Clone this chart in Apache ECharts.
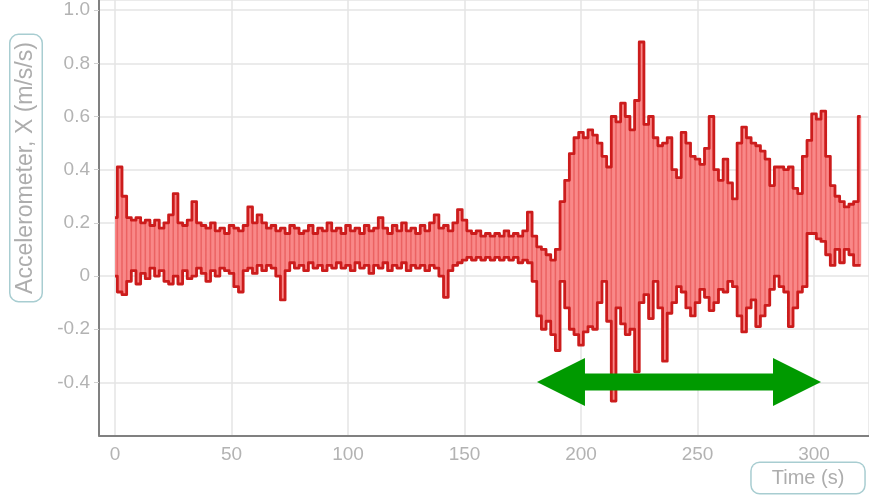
<!DOCTYPE html>
<html>
<head>
<meta charset="utf-8">
<script src="https://cdn.jsdelivr.net/npm/echarts@6/dist/echarts.min.js"></script>
<style>
  html, body { margin: 0; padding: 0; background: #fff; }
  #chart { width: 869px; height: 495px; }
</style>
</head>
<body>
<div id="chart"></div>
<script>
// Accelerometer X trace, summarised every 2 s as the upper and lower edge
// of the fast oscillation band.
const time = [
  0, 2, 4, 6, 8, 10, 12, 14, 16, 18, 20, 22, 24, 26, 28, 30, 32, 34, 36, 38,
  40, 42, 44, 46, 48, 50, 52, 54, 56, 58, 60, 62, 64, 66, 68, 70, 72, 74, 76, 78,
  80, 82, 84, 86, 88, 90, 92, 94, 96, 98, 100, 102, 104, 106, 108, 110, 112, 114, 116, 118,
  120, 122, 124, 126, 128, 130, 132, 134, 136, 138, 140, 142, 144, 146, 148, 150, 152, 154, 156, 158,
  160, 162, 164, 166, 168, 170, 172, 174, 176, 178, 180, 182, 184, 186, 188, 190, 192, 194, 196, 198,
  200, 202, 204, 206, 208, 210, 212, 214, 216, 218, 220, 222, 224, 226, 228, 230, 232, 234, 236, 238,
  240, 242, 244, 246, 248, 250, 252, 254, 256, 258, 260, 262, 264, 266, 268, 270, 272, 274, 276, 278,
  280, 282, 284, 286, 288, 290, 292, 294, 296, 298, 300, 302, 304, 306, 308, 310, 312, 314, 316, 318,
  320
];

const accelHigh = [
  0.22, 0.41, 0.30, 0.22, 0.21, 0.22, 0.20, 0.21, 0.19, 0.21, 0.18, 0.20, 0.23, 0.31, 0.20, 0.19, 0.21, 0.28, 0.20, 0.19,
  0.18, 0.20, 0.17, 0.18, 0.16, 0.19, 0.18, 0.17, 0.19, 0.26, 0.20, 0.23, 0.20, 0.18, 0.19, 0.17, 0.18, 0.16, 0.19, 0.18,
  0.16, 0.17, 0.19, 0.16, 0.18, 0.17, 0.20, 0.17, 0.18, 0.16, 0.19, 0.17, 0.18, 0.16, 0.19, 0.17, 0.18, 0.22, 0.18, 0.16,
  0.19, 0.17, 0.20, 0.17, 0.18, 0.16, 0.19, 0.17, 0.20, 0.23, 0.18, 0.19, 0.17, 0.20, 0.25, 0.21, 0.17, 0.16, 0.17, 0.15,
  0.16, 0.15, 0.16, 0.15, 0.17, 0.15, 0.16, 0.15, 0.17, 0.24, 0.15, 0.11, 0.10, 0.08, 0.06, 0.10, 0.28, 0.36, 0.46, 0.52,
  0.54, 0.52, 0.55, 0.53, 0.50, 0.45, 0.41, 0.60, 0.58, 0.65, 0.60, 0.55, 0.66, 0.88, 0.57, 0.60, 0.52, 0.49, 0.50, 0.52,
  0.40, 0.37, 0.54, 0.50, 0.45, 0.44, 0.42, 0.48, 0.60, 0.40, 0.36, 0.44, 0.35, 0.29, 0.50, 0.56, 0.52, 0.50, 0.49, 0.47,
  0.44, 0.34, 0.41, 0.41, 0.40, 0.41, 0.33, 0.31, 0.45, 0.51, 0.61, 0.59, 0.62, 0.45, 0.34, 0.30, 0.28, 0.26, 0.27, 0.28,
  0.60
];

const accelLow = [
  0.00, -0.06, -0.07, -0.02, 0.02, -0.03, 0.01, -0.01, 0.03, 0.00, 0.02, -0.02, -0.03, 0.00, -0.03, 0.02, -0.01, 0.00, 0.03, 0.01,
  -0.02, 0.02, 0.00, 0.03, 0.02, 0.01, -0.04, -0.06, 0.02, 0.03, 0.01, 0.04, 0.02, 0.04, 0.03, 0.00, -0.09, 0.02, 0.05, 0.03,
  0.04, 0.02, 0.05, 0.03, 0.04, 0.02, 0.04, 0.03, 0.05, 0.03, 0.04, 0.02, 0.05, 0.03, 0.04, 0.01, 0.04, 0.03, 0.05, 0.02,
  0.04, 0.03, 0.05, 0.02, 0.04, 0.03, 0.04, 0.02, 0.04, 0.03, 0.00, -0.08, 0.02, 0.04, 0.05, 0.06, 0.07, 0.06, 0.07, 0.06,
  0.07, 0.06, 0.07, 0.06, 0.07, 0.06, 0.07, 0.05, 0.06, 0.05, -0.02, -0.15, -0.20, -0.17, -0.22, -0.28, -0.02, -0.12, -0.20, -0.22,
  -0.26, -0.21, -0.19, -0.20, -0.10, -0.02, -0.17, -0.47, -0.12, -0.18, -0.22, -0.20, -0.36, -0.10, -0.07, -0.16, -0.02, -0.12, -0.32, -0.14,
  -0.10, -0.04, -0.06, -0.12, -0.15, -0.10, -0.05, -0.08, -0.13, -0.10, -0.05, -0.06, -0.02, -0.04, -0.15, -0.21, -0.12, -0.09, -0.19, -0.15,
  -0.11, -0.05, 0.00, -0.04, -0.06, -0.19, -0.12, -0.06, -0.04, 0.16, 0.16, 0.14, 0.13, 0.08, 0.04, 0.10, 0.05, 0.10, 0.08, 0.04,
  0.04
];

const yTickStep = 0.2;
const xAxisRange = [-6.87, 323.6];
const yAxisRange = [-0.6, 1.038];

// Arrow marking the shaking interval, in data units
const ARROW_FROM = 181.1;
const ARROW_TO = 303.0;
const ARROW_LEVEL = -0.398;

const EDGE = '#cc1c1c';
const FILL = '#f98888';
const STREAK = 'rgba(212, 36, 36, 0.38)';
const LABEL_FONT = 'Liberation Sans, Arial, sans-serif';

const bandRows = time.map((t, i) => [t, accelLow[i], accelHigh[i]]);
const highLine = time.map((t, i) => [t, accelHigh[i]]);
const lowLine = time.map((t, i) => [t, accelLow[i]]);
const streakLine = time.map((t, i) => [t, i % 2 === 0 ? accelHigh[i] : accelLow[i]]);

// Each sample covers half a step either side of its time (matches step: 'middle').
function renderBand(params, api) {
  const i = params.dataIndex;
  const t = api.value(0);
  const tPrev = i > 0 ? time[i - 1] : t;
  const tNext = i < time.length - 1 ? time[i + 1] : t;
  const left = (tPrev + t) / 2;
  const right = (t + tNext) / 2;
  const p0 = api.coord([left, api.value(2)]);
  const p1 = api.coord([right, api.value(1)]);
  return {
    type: 'rect',
    shape: { x: p0[0], y: p0[1], width: p1[0] - p0[0] + 0.6, height: p1[1] - p0[1] },
    style: { fill: FILL },
    silent: true
  };
}

const chart = echarts.init(document.getElementById('chart'), null, { renderer: 'canvas' });

chart.setOption({
  animation: false,
  backgroundColor: '#ffffff',
  grid: { left: 99, right: 0, top: 0, bottom: 59.4, containLabel: false },
  xAxis: {
    type: 'value',
    min: xAxisRange[0],
    max: xAxisRange[1],
    splitNumber: 7,
    axisLine: { show: true, onZero: false, lineStyle: { color: '#808080', width: 2 } },
    axisTick: { show: false },
    axisLabel: {
      showMinLabel: false, showMaxLabel: false,
      color: '#b3b3b3', fontFamily: LABEL_FONT, fontSize: 19, margin: 10
    },
    splitLine: { show: true, lineStyle: { color: '#e4e4e4', width: 1.5 } }
  },
  yAxis: {
    type: 'value',
    min: yAxisRange[0],
    max: yAxisRange[1],
    interval: yTickStep,
    axisLine: { show: true, onZero: false, lineStyle: { color: '#808080', width: 2 } },
    axisTick: { show: true, length: 5, lineStyle: { color: '#d0d0d0' } },
    axisLabel: {
      showMinLabel: false, showMaxLabel: false,
      color: '#b3b3b3', fontFamily: LABEL_FONT, fontSize: 19, margin: 9,
      formatter: v => (Math.abs(v) < 1e-9 ? '0' : v.toFixed(1))
    },
    splitLine: { show: true, lineStyle: { color: '#e4e4e4', width: 1.5 } }
  },
  series: [
    {
      name: 'band',
      type: 'custom',
      data: bandRows,
      encode: { x: 0, y: [1, 2] },
      renderItem: renderBand,
      z: 2
    },
    {
      name: 'streak',
      type: 'line',
      data: streakLine,
      step: 'middle',
      showSymbol: false,
      symbol: 'none',
      z: 3,
      lineStyle: { color: STREAK, width: 1.5 }
    },
    {
      name: 'high',
      type: 'line',
      data: highLine,
      step: 'middle',
      showSymbol: false,
      symbol: 'none',
      z: 4,
      lineStyle: { color: EDGE, width: 2.8, join: 'round' }
    },
    {
      name: 'low',
      type: 'line',
      data: lowLine,
      step: 'middle',
      showSymbol: false,
      symbol: 'none',
      z: 4,
      lineStyle: { color: EDGE, width: 2.8, join: 'round' }
    }
  ]
});

function arrowPoints() {
  const a = chart.convertToPixel({ gridIndex: 0 }, [ARROW_FROM, ARROW_LEVEL]);
  const b = chart.convertToPixel({ gridIndex: 0 }, [ARROW_TO, ARROW_LEVEL]);
  const xl = a[0], xr = b[0], yc = a[1];
  const head = 48, headHalf = 24, shaftHalf = 8.5;
  return [
    [xl, yc], [xl + head, yc - headHalf], [xl + head, yc - shaftHalf],
    [xr - head, yc - shaftHalf], [xr - head, yc - headHalf], [xr, yc],
    [xr - head, yc + headHalf], [xr - head, yc + shaftHalf],
    [xl + head, yc + shaftHalf], [xl + head, yc + headHalf]
  ];
}

const boxStyle = {
  fill: '#adadad',
  borderColor: '#a8cdd1',
  borderWidth: 1.5,
  borderRadius: 8,
  backgroundColor: '#ffffff',
  align: 'center',
  verticalAlign: 'middle'
};

chart.setOption({
  graphic: [
    {
      type: 'polygon',
      z: 100,
      shape: { points: arrowPoints() },
      style: { fill: '#009a00' }
    },
    {
      type: 'text',
      z: 100,
      x: 26,
      y: 168,
      rotation: Math.PI / 2,
      style: Object.assign({}, boxStyle, {
        text: 'Accelerometer, X (m/s/s)',
        font: '23px ' + LABEL_FONT,
        padding: [4, 7]
      })
    },
    {
      type: 'text',
      z: 100,
      x: 808,
      y: 478,
      style: Object.assign({}, boxStyle, {
        text: 'Time (s)',
        font: '20px ' + LABEL_FONT,
        padding: [5, 20]
      })
    }
  ]
});
</script>
</body>
</html>
